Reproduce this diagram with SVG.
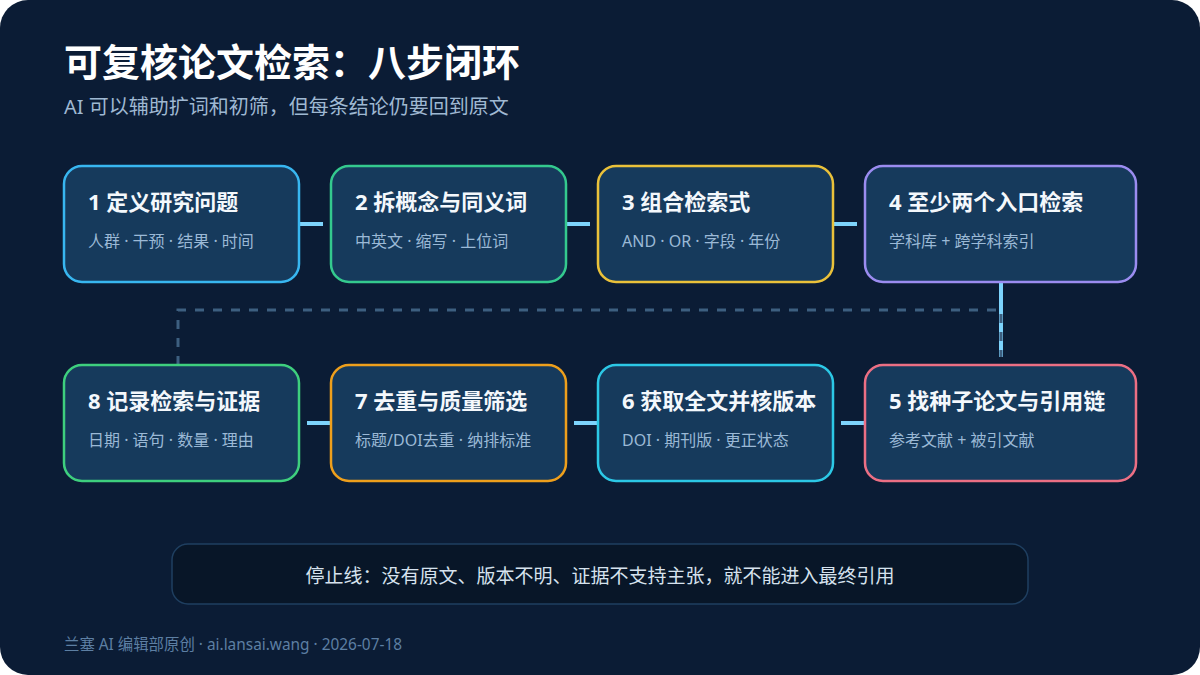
<svg xmlns="http://www.w3.org/2000/svg" width="1200" height="675" viewBox="0 0 1200 675">
  <style>
    .t { font-family: "Noto Sans", "Noto Sans CJK SC", sans-serif; }
    .node rect { fill: #163a5c; stroke-width: 2.5; }
    .nt { font-family: "Noto Sans", "Noto Sans CJK SC", sans-serif; font-size: 22px; font-weight: 700; fill: #f4f8fc; }
    .ns { font-family: "Noto Sans", "Noto Sans CJK SC", sans-serif; font-size: 16px; fill: #9bb9d6; }
    .link { stroke: #7dd3fc; stroke-width: 4; fill: none; }
    .loop { stroke: #3d5f80; stroke-width: 3; fill: none; stroke-dasharray: 9 9; }
  </style>
  <rect x="0" y="0" width="1200" height="675" fill="#ffffff"/>
  <rect x="0" y="0" width="1200" height="675" rx="28" ry="28" fill="#0b1c35"/>

  <g id="header">
    <text class="t" x="64" y="76" font-size="38" font-weight="700" fill="#ffffff">可复核论文检索：八步闭环</text>
    <text class="t" x="64" y="114" font-size="20" fill="#9fb8d2">AI 可以辅助扩词和初筛，但每条结论仍要回到原文</text>
  </g>

  <g id="connectors">
    <line class="link" x1="299" y1="224" x2="323" y2="224"/>
    <line class="link" x1="566" y1="224" x2="590" y2="224"/>
    <line class="link" x1="833" y1="224" x2="857" y2="224"/>
    <line class="link" x1="1001" y1="282" x2="1001" y2="357"/>
    <line class="link" x1="865" y1="423" x2="841" y2="423"/>
    <line class="link" x1="598" y1="423" x2="574" y2="423"/>
    <line class="link" x1="331" y1="423" x2="307" y2="423"/>
    <path class="loop" d="M178 365 V310 H1001 V357"/>
  </g>

  <g id="node1" class="node">
    <rect x="64" y="166" width="235" height="116" rx="18" stroke="#38b6f0"/>
    <text class="nt" x="88" y="210">1 定义研究问题</text>
    <text class="ns" x="88" y="247">人群 · 干预 · 结果 · 时间</text>
  </g>
  <g id="node2" class="node">
    <rect x="331" y="166" width="235" height="116" rx="18" stroke="#34c98e"/>
    <text class="nt" x="355" y="210">2 拆概念与同义词</text>
    <text class="ns" x="355" y="247">中英文 · 缩写 · 上位词</text>
  </g>
  <g id="node3" class="node">
    <rect x="598" y="166" width="235" height="116" rx="18" stroke="#eac13a"/>
    <text class="nt" x="622" y="210">3 组合检索式</text>
    <text class="ns" x="622" y="247">AND · OR · 字段 · 年份</text>
  </g>
  <g id="node4" class="node">
    <rect x="865" y="166" width="271" height="116" rx="18" stroke="#9b8cf0"/>
    <text class="nt" x="889" y="210">4 至少两个入口检索</text>
    <text class="ns" x="889" y="247">学科库 + 跨学科索引</text>
  </g>
  <g id="node5" class="node">
    <rect x="865" y="365" width="271" height="116" rx="18" stroke="#ec6f84"/>
    <text class="nt" x="889" y="409">5 找种子论文与引用链</text>
    <text class="ns" x="889" y="446">参考文献 + 被引文献</text>
  </g>
  <g id="node6" class="node">
    <rect x="598" y="365" width="235" height="116" rx="18" stroke="#2cc8e6"/>
    <text class="nt" x="622" y="409">6 获取全文并核版本</text>
    <text class="ns" x="622" y="446">DOI · 期刊版 · 更正状态</text>
  </g>
  <g id="node7" class="node">
    <rect x="331" y="365" width="235" height="116" rx="18" stroke="#ee9f1c"/>
    <text class="nt" x="355" y="409">7 去重与质量筛选</text>
    <text class="ns" x="355" y="446">标题/DOI去重 · 纳排标准</text>
  </g>
  <g id="node8" class="node">
    <rect x="64" y="365" width="235" height="116" rx="18" stroke="#3ecf7e"/>
    <text class="nt" x="88" y="409">8 记录检索与证据</text>
    <text class="ns" x="88" y="446">日期 · 语句 · 数量 · 理由</text>
  </g>

  <g id="stopline">
    <rect x="172" y="544" width="856" height="60" rx="16" fill="#081628" stroke="#1f3f60" stroke-width="1.5"/>
    <text class="t" x="600" y="583" font-size="19" fill="#d6e2ee" text-anchor="middle">停止线：没有原文、版本不明、证据不支持主张，就不能进入最终引用</text>
  </g>

  <g id="footer">
    <text class="t" x="64" y="650" font-size="15.4" fill="#5d7fa3">兰塞 AI 编辑部原创 · ai.lansai.wang · 2026-07-18</text>
  </g>
</svg>
